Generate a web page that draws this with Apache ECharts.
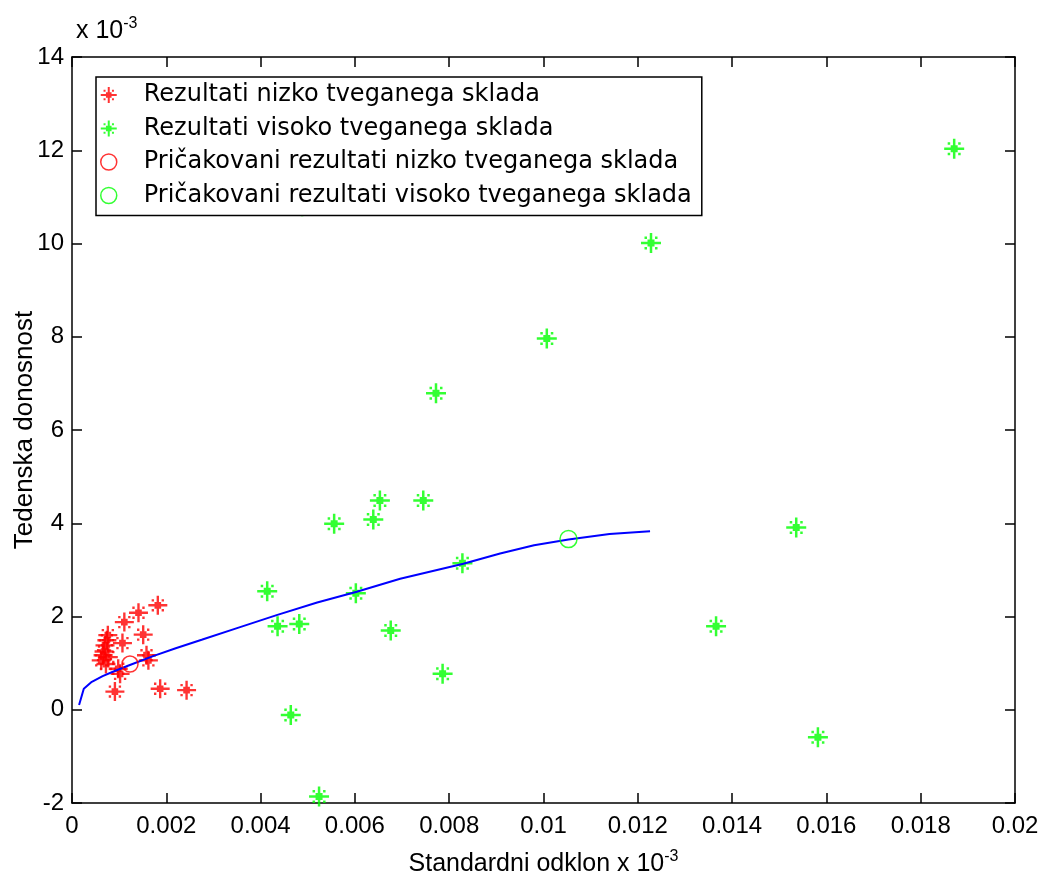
<!DOCTYPE html>
<html>
<head>
<meta charset="utf-8">
<script src="https://cdn.jsdelivr.net/npm/echarts@6/dist/echarts.min.js"></script>
<style>html,body{margin:0;padding:0;background:#fff}#c{width:1044px;height:880px}</style>
</head>
<body>
<div id="c"></div>
<script>
// x in real units, y in units of 1e-3
const lowRiskX = [0.00182,0.00141,0.00111,0.00151,0.00076,0.00074,0.00107,0.00070,0.00066,0.00062,0.00077,0.00158,0.00162,0.00098,0.00102,0.00091,0.00187,0.00243,0.00068,0.00072];
const lowRiskY = [2.24,2.08,1.88,1.61,1.60,1.49,1.43,1.38,1.17,1.06,1.13,1.17,1.06,0.88,0.77,0.39,0.45,0.42,1.25,0.98];
const highRiskX = [0.01871,0.01228,0.01007,0.00772,0.00488,0.01536,0.01366,0.01582,0.00745,0.00653,0.00639,0.00556,0.00828,0.00414,0.00436,0.00482,0.00602,0.00676,0.00786,0.00464,0.00524];
const highRiskY = [12.03,10.01,7.96,6.79,10.8,3.91,1.79,-0.59,4.49,4.49,4.08,3.99,3.14,2.54,1.79,1.84,2.50,1.70,0.77,-0.11,-1.86];
const expLowX = [0.00123];
const expLowY = [0.98];
const expHighX = [0.01053];
const expHighY = [3.66];
const frontierX = [0.00015,0.00025,0.00042,0.00065,0.00088,0.0012,0.00172,0.0022,0.00275,0.0035,0.00434,0.0052,0.00604,0.00696,0.0083,0.00908,0.0098,0.01053,0.0114,0.01226];
const frontierY = [0.10,0.45,0.60,0.72,0.82,0.95,1.15,1.32,1.50,1.75,2.03,2.30,2.53,2.81,3.13,3.35,3.53,3.65,3.77,3.83];
const seriesNames = ['Rezultati nizko tveganega sklada','Rezultati visoko tveganega sklada','Pričakovani rezultati nizko tveganega sklada','Pričakovani rezultati visoko tveganega sklada'];
const xTicks = {min:0, max:0.02, interval:0.002};
const yTicks = {min:-2, max:14, interval:2};

const zip = (a,b) => a.map((v,i)=>[v,b[i]]);
const star = 'path://M8.75 0h2.5v20h-2.5zM0 8.75h20v2.5h-20zM6.5 6.5h7v7h-7zM3.5 3.5h2.5v2.5h-2.5zM14 3.5h2.5v2.5h-2.5zM3.5 14h2.5v2.5h-2.5zM14 14h2.5v2.5h-2.5z';
const font = 'Liberation Sans';

const chart = echarts.init(document.getElementById('c'));
const axisCommon = {
  axisLine:{show:true, onZero:false, lineStyle:{color:'#000', width:1.5}},
  axisTick:{show:true, inside:true, length:10, lineStyle:{color:'#000', width:1.5}},
  splitLine:{show:false}
};
chart.setOption({
  backgroundColor:'#fff',
  animation:false,
  grid:{left:72, right:29, top:57, bottom:77, containLabel:false, outerBoundsMode:'none'},
  xAxis:[
    Object.assign({type:'value', position:'bottom', min:xTicks.min, max:xTicks.max, interval:xTicks.interval,
      axisLabel:{color:'#000', fontFamily:font, fontSize:24, margin:11, formatter:v=>String(parseFloat(v.toFixed(3)))},
      name:'{a|Standardni odklon x 10}{s|-3}', nameLocation:'middle', nameGap:46, nameMoveOverlap:false,
      nameTextStyle:{rich:{a:{fontFamily:font, fontSize:25, color:'#000'}, s:{fontFamily:font, fontSize:16, color:'#000', verticalAlign:'top', padding:[0,0,14,0]}}}
    }, axisCommon),
    Object.assign({type:'value', position:'top', min:xTicks.min, max:xTicks.max, interval:xTicks.interval, axisLabel:{show:false}}, axisCommon)
  ],
  yAxis:[
    Object.assign({type:'value', position:'left', min:yTicks.min, max:yTicks.max, interval:yTicks.interval,
      axisLabel:{color:'#000', fontFamily:font, fontSize:24, margin:8},
      name:'Tedenska donosnost', nameLocation:'middle', nameGap:34, nameRotate:90, nameMoveOverlap:false,
      nameTextStyle:{fontFamily:font, fontSize:26, color:'#000'}
    }, axisCommon),
    Object.assign({type:'value', position:'right', min:yTicks.min, max:yTicks.max, interval:yTicks.interval, axisLabel:{show:false}}, axisCommon)
  ],
  graphic:[{
    type:'text', left:76, top:16,
    style:{text:'{a|x 10}{s|-3}', rich:{a:{fontFamily:font, fontSize:25, fill:'#000'}, s:{fontFamily:font, fontSize:16, fill:'#000', verticalAlign:'top', padding:[0,0,14,0]}}}
  }],
  legend:{
    orient:'vertical', left:96, top:77,
    padding:[6,10,8,4], itemGap:9.5, itemWidth:16, itemHeight:22,
    backgroundColor:'#fff', borderColor:'#000', borderWidth:1.5,
    textStyle:{fontFamily:'DejaVu Sans', fontSize:24, lineHeight:22, color:'#000', padding:[0,0,0,22]},
    data:[
      {name:seriesNames[0], icon:star, itemStyle:{color:'#ff0000'}},
      {name:seriesNames[1], icon:star, itemStyle:{color:'#00ff00'}},
      {name:seriesNames[2], icon:'circle', itemStyle:{color:'#fff', borderColor:'#ff0000', borderWidth:1.5}},
      {name:seriesNames[3], icon:'circle', itemStyle:{color:'#fff', borderColor:'#00ff00', borderWidth:1.5}}
    ]
  },
  series:[
    {type:'line', name:'frontier', data:zip(frontierX, frontierY), showSymbol:false, symbol:'none', lineStyle:{color:'#0000ff', width:2}, z:3},
    {type:'scatter', name:seriesNames[0], data:zip(lowRiskX, lowRiskY), symbol:star, symbolSize:19, itemStyle:{color:'#ff0000'}, z:2},
    {type:'scatter', name:seriesNames[1], data:zip(highRiskX, highRiskY), symbol:star, symbolSize:20, itemStyle:{color:'#00ff00'}, z:2},
    {type:'scatter', name:seriesNames[2], data:zip(expLowX, expLowY), symbol:'circle', symbolSize:16, itemStyle:{color:'rgba(0,0,0,0)', borderColor:'#ff0000', borderWidth:1.5}, z:4},
    {type:'scatter', name:seriesNames[3], data:zip(expHighX, expHighY), symbol:'circle', symbolSize:17, itemStyle:{color:'rgba(0,0,0,0)', borderColor:'#00ff00', borderWidth:1.5}, z:4}
  ]
});
</script>
</body>
</html>
